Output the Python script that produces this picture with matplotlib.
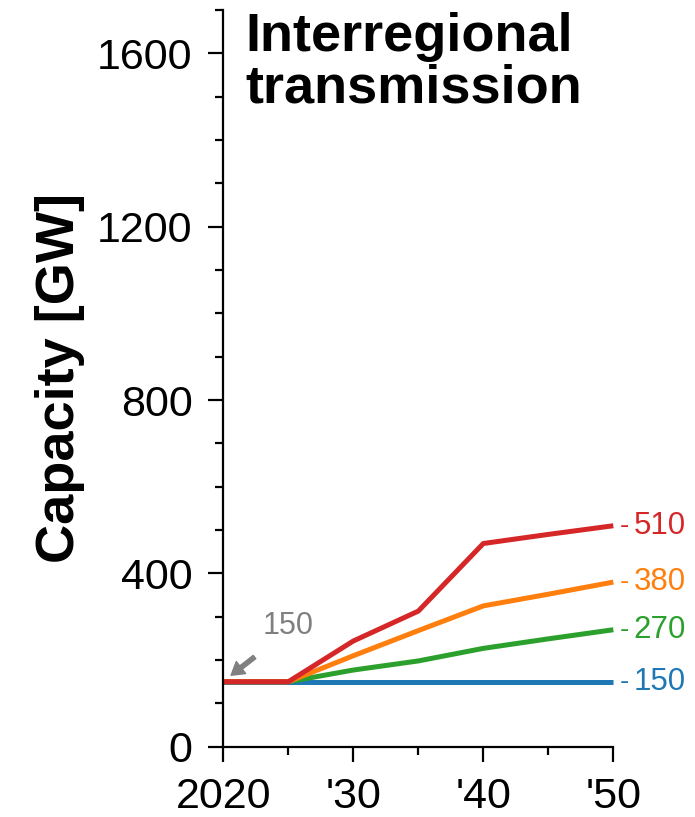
import matplotlib
matplotlib.use('Agg')
import matplotlib.pyplot as plt
from matplotlib.ticker import MultipleLocator

plt.rcParams['font.family'] = ['Liberation Sans', 'DejaVu Sans']

years = [2020, 2025, 2030, 2035, 2040, 2045, 2050]
blue = [150, 150, 150, 150, 150, 150, 150]
green = [150, 150, 177, 198, 227, 249, 270]
orange = [150, 150, 210, 268, 325, 352, 380]
red = [150, 150, 244, 313, 469, 490, 510]
end_labels = ['150', '270', '380', '510']
xtick_vals = [2020, 2030, 2040, 2050]
xtick_labels = ['2020', "'30", "'40", "'50"]
ytick_vals = [0, 400, 800, 1200, 1600]
start_value = 150

colors = ['#1f77b4', '#2ca02c', '#ff7f0e', '#d62728']

fig = plt.figure(figsize=(6.95, 8.17), dpi=100)
ax = fig.add_axes([0.3213, 0.086, 0.5612, 0.9017])

for vals, c, lab in zip([blue, green, orange, red], colors, end_labels):
    ax.plot(years, vals, color=c, lw=3.6, solid_capstyle='butt', clip_on=False)
    # small dash, then the value
    ax.annotate('-', xy=(years[-1], vals[-1]), xytext=(4.5, 0),
                textcoords='offset points', ha='left', va='center',
                fontsize=20, color=c, annotation_clip=False)
    ax.annotate(lab, xy=(years[-1], vals[-1]), xytext=(14.5, 0),
                textcoords='offset points', ha='left', va='center',
                fontsize=22.5, color=c, annotation_clip=False)

# arrow to the 2020 starting value
ax.annotate('', xy=(2020.6, start_value + 15), xytext=(2022.4, start_value + 57),
            arrowprops=dict(facecolor='#808080', edgecolor='#808080',
                            width=3, headwidth=11, headlength=9, shrink=0))
ax.text(2025.0, start_value + 128, str(start_value), fontsize=22, color='#808080',
        ha='center', va='center')

ax.text(0.056, 0.998, 'Interregional\ntransmission', transform=ax.transAxes,
        fontsize=39, fontweight='bold', ha='left', va='top', linespacing=1.05)

ax.set_xlim(2020, 2050)
ax.set_ylim(0, 1700)
ax.set_xticks(xtick_vals)
ax.set_xticklabels(xtick_labels)
ax.xaxis.set_minor_locator(MultipleLocator(5))
ax.set_yticks(ytick_vals)
ax.yaxis.set_minor_locator(MultipleLocator(100))

for s in ['top', 'right']:
    ax.spines[s].set_visible(False)
for s in ['left', 'bottom']:
    ax.spines[s].set_linewidth(1.6)

ax.tick_params(which='major', length=11, width=1.6, labelsize=31, pad=11)
ax.tick_params(which='minor', length=6, width=1.6)

ax.set_ylabel('Capacity [GW]', fontsize=39, fontweight='bold')
ax.yaxis.set_label_coords(-0.355, 0.5)

fig.savefig('out.png', dpi=100)
